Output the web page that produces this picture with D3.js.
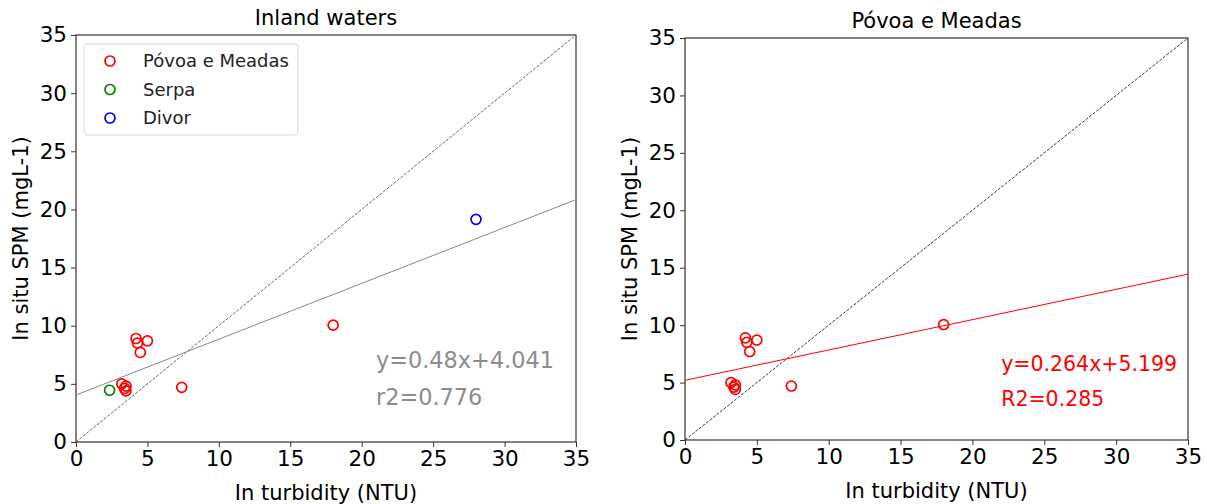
<!DOCTYPE html>
<html>
<head>
<meta charset="utf-8">
<script src="https://cdn.jsdelivr.net/npm/d3@7"></script>
<style>
  body { margin: 0; background: #fff; }
  svg { font-family: "DejaVu Sans", sans-serif; }
</style>
</head>
<body>
<div id="chart"></div>
<script>
// turbidity (NTU) and in situ SPM (mg/L) per site
const povoaTurb = [4.2, 4.3, 5.0, 4.5, 3.2, 3.5, 3.4, 3.5, 7.4, 18.0];
const povoaSpm  = [8.9, 8.5, 8.7, 7.7, 5.0, 4.8, 4.6, 4.4, 4.7, 10.05];
const serpaTurb = [2.35];
const serpaSpm  = [4.45];
const divorTurb = [28.0];
const divorSpm  = [19.15];

const ticks = [0, 5, 10, 15, 20, 25, 30, 35];
const legendNames = ["Póvoa e Meadas", "Serpa", "Divor"];
const legendColors = ["red", "green", "blue"];

// fitted lines
const allFit = { slope: 0.48, icpt: 4.041, r2: 0.776 };
const povoaFit = { slope: 0.264, icpt: 5.199, r2: 0.285 };

const W = 1207, H = 504;
const svg = d3.select("#chart").append("svg").attr("width", W).attr("height", H);

function panel(box, title) {
  const x = d3.scaleLinear().domain([0, 35]).range([box.x0, box.x1]);
  const y = d3.scaleLinear().domain([0, 35]).range([box.y0, box.y1]);
  const g = svg.append("g");

  // frame
  g.append("rect")
    .attr("x", box.x0).attr("y", box.y1)
    .attr("width", box.x1 - box.x0).attr("height", box.y0 - box.y1)
    .attr("fill", "none").attr("stroke", "#333").attr("stroke-width", 1.2);

  const xa = g.append("g").attr("transform", `translate(0,${box.y0})`)
    .call(d3.axisBottom(x).tickValues(ticks).tickSize(5).tickPadding(4));
  const ya = g.append("g").attr("transform", `translate(${box.x0},0)`)
    .call(d3.axisLeft(y).tickValues(ticks).tickSize(5).tickPadding(4));
  [xa, ya].forEach(a => {
    a.select(".domain").remove();
    a.selectAll("line").attr("stroke", "#333");
    a.selectAll("text").attr("font-size", 21.5).attr("fill", "#000")
      .attr("font-family", "DejaVu Sans");
  });

  g.append("text").attr("x", (box.x0 + box.x1) / 2).attr("y", box.y1 - 10)
    .attr("text-anchor", "middle").attr("font-size", 21).text(title);
  g.append("text").attr("x", (box.x0 + box.x1) / 2).attr("y", box.y0 + 58)
    .attr("text-anchor", "middle").attr("font-size", 21).text("In turbidity (NTU)");
  g.append("text")
    .attr("transform", `translate(${box.x0 - 48},${(box.y0 + box.y1) / 2}) rotate(-90)`)
    .attr("text-anchor", "middle").attr("font-size", 21).text("In situ SPM (mgL-1)");
  return { g, x, y };
}

function points(p, xs, ys, color) {
  p.g.append("g").selectAll("circle").data(xs).join("circle")
    .attr("cx", d => p.x(d)).attr("cy", (d, i) => p.y(ys[i])).attr("r", 5)
    .attr("fill", "none").attr("stroke", color).attr("stroke-width", 1.7);
}

function fitLine(p, fit, color, width) {
  p.g.append("line")
    .attr("x1", p.x(0)).attr("y1", p.y(fit.icpt))
    .attr("x2", p.x(35)).attr("y2", p.y(fit.icpt + fit.slope * 35))
    .attr("stroke", color).attr("stroke-width", width);
}

function oneToOne(p, color) {
  p.g.append("line")
    .attr("x1", p.x(0)).attr("y1", p.y(0)).attr("x2", p.x(35)).attr("y2", p.y(35))
    .attr("stroke", color).attr("stroke-width", 0.9).attr("stroke-dasharray", "3,1.5");
}

// left panel: all inland waters
const left = panel({ x0: 76, x1: 576, y0: 442, y1: 35 }, "Inland waters");
oneToOne(left, "#555");
fitLine(left, allFit, "#888", 1);
points(left, povoaTurb, povoaSpm, "red");
points(left, serpaTurb, serpaSpm, "green");
points(left, divorTurb, divorSpm, "blue");
left.g.append("text").attr("x", left.x(21)).attr("y", left.y(6.35))
  .attr("font-size", 22.4).attr("fill", "#8c8c8c")
  .text(`y=${allFit.slope}x+${allFit.icpt}`);
left.g.append("text").attr("x", left.x(21)).attr("y", left.y(3.2))
  .attr("font-size", 22.4).attr("fill", "#8c8c8c")
  .text(`r2=${allFit.r2}`);

// legend
const lg = left.g.append("g").attr("transform", "translate(84,44)");
lg.append("rect").attr("width", 214).attr("height", 91).attr("rx", 3)
  .attr("fill", "#fff").attr("stroke", "#d9d9d9");
legendNames.forEach((name, i) => {
  lg.append("circle").attr("cx", 26).attr("cy", 17 + i * 28.5).attr("r", 5)
    .attr("fill", "none").attr("stroke", legendColors[i]).attr("stroke-width", 1.7);
  lg.append("text").attr("x", 59).attr("y", 17 + i * 28.5).attr("dy", "0.35em")
    .attr("font-size", 18).attr("fill", "#222").text(name);
});

// right panel: Póvoa e Meadas only
const right = panel({ x0: 685, x1: 1188, y0: 440, y1: 38 }, "Póvoa e Meadas");
oneToOne(right, "#222");
fitLine(right, povoaFit, "red", 1);
points(right, povoaTurb, povoaSpm, "red");
right.g.append("text").attr("x", right.x(22)).attr("y", right.y(6.0))
  .attr("font-size", 20.5).attr("fill", "red")
  .text(`y=${povoaFit.slope}x+${povoaFit.icpt}`);
right.g.append("text").attr("x", right.x(22)).attr("y", right.y(3.0))
  .attr("font-size", 20.5).attr("fill", "red")
  .text(`R2=${povoaFit.r2}`);
</script>
</body>
</html>
